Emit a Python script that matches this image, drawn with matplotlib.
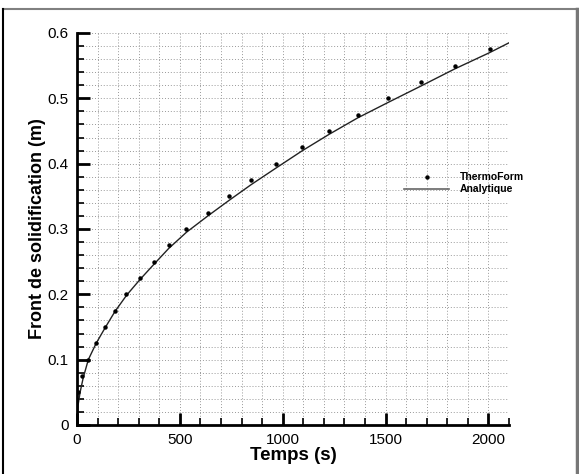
import numpy as np
import matplotlib
matplotlib.use("Agg")
import matplotlib.pyplot as plt
from matplotlib.lines import Line2D
from matplotlib.ticker import MultipleLocator

plt.rcParams['font.family'] = ['Liberation Sans', 'DejaVu Sans']

# ThermoForm results (time in s, front position in m)
thermo_t = [6, 26, 52, 91, 138, 185, 239, 307, 374, 445, 532, 636, 740, 847,
            966, 1096, 1226, 1364, 1514, 1673, 1836, 2006]
thermo_y = [0.050, 0.075, 0.100, 0.125, 0.150, 0.175, 0.200, 0.225, 0.250, 0.275,
            0.300, 0.325, 0.350, 0.375, 0.400, 0.425, 0.450, 0.475, 0.500, 0.525,
            0.550, 0.575]

# Analytical solution
analytic_t = [0, 5, 15, 30, 55, 93, 137, 185, 242, 307, 374, 445, 532, 636, 740,
              847, 966, 1096, 1226, 1364, 1514, 1673, 1836, 2006, 2100]
analytic_y = [0.0, 0.030, 0.050, 0.072, 0.100, 0.125, 0.149, 0.174, 0.199, 0.223,
              0.246, 0.270, 0.295, 0.320, 0.344, 0.368, 0.393, 0.420, 0.445, 0.470,
              0.494, 0.519, 0.545, 0.570, 0.585]

W, H = 579, 474
fig = plt.figure(figsize=(W / 100, H / 100), dpi=100)
ax = fig.add_axes([77 / W, 1 - 425 / H, 432 / W, 392 / H])

ax.plot(analytic_t, analytic_y, color='#222222', lw=1.0, label='Analytique')
ax.plot(thermo_t, thermo_y, 'o', color='black', ms=2.2, label='ThermoForm')

ax.set_xlim(0, 2100)
ax.set_ylim(0, 0.6)
ax.xaxis.set_major_locator(MultipleLocator(500))
ax.xaxis.set_minor_locator(MultipleLocator(100))
ax.yaxis.set_major_locator(MultipleLocator(0.1))
ax.yaxis.set_minor_locator(MultipleLocator(0.02))
ax.yaxis.set_major_formatter(plt.FuncFormatter(lambda v, p: '0' if v == 0 else f'{v:.1f}'))

ax.grid(which='both', color='#999999', linestyle=(0, (1, 2)), lw=0.7)
ax.set_axisbelow(True)

for s in ['top', 'right']:
    ax.spines[s].set_visible(False)
for s in ['left', 'bottom']:
    ax.spines[s].set_linewidth(2)

ax.tick_params(which='major', direction='in', length=9, width=2, labelsize=11, pad=6)
ax.tick_params(which='minor', direction='in', length=5, width=1.2)

ax.set_xlabel('Temps (s)', fontsize=13.5, fontweight='bold', labelpad=0)
ax.set_ylabel('Front de solidification (m)', fontsize=13, fontweight='bold', labelpad=1)

handles = [Line2D([], [], ls='none', marker='o', color='black', ms=2.2),
           Line2D([], [], color='#666666', lw=1.2)]
ax.legend(handles, ['ThermoForm', 'Analytique'], loc='upper left',
          bbox_to_anchor=(0.758, 0.645), frameon=False, borderpad=0,
          borderaxespad=0, handlelength=4.3, handletextpad=1.0,
          labelspacing=0.2, prop={'size': 7.5, 'weight': 'bold'})

# outer frame of the picture
fig.add_artist(Line2D([2.5 / W, 577 / W], [1 - 8.5 / H, 1 - 8.5 / H],
                      color='#808080', lw=1.5, transform=fig.transFigure))
fig.add_artist(Line2D([2.5 / W, 2.5 / W], [0, 1 - 8.5 / H],
                      color='black', lw=1.5, transform=fig.transFigure))
fig.add_artist(Line2D([577 / W, 577 / W], [0, 1 - 8.5 / H],
                      color='#777777', lw=2.5, transform=fig.transFigure))

fig.savefig('out.png', dpi=100)
